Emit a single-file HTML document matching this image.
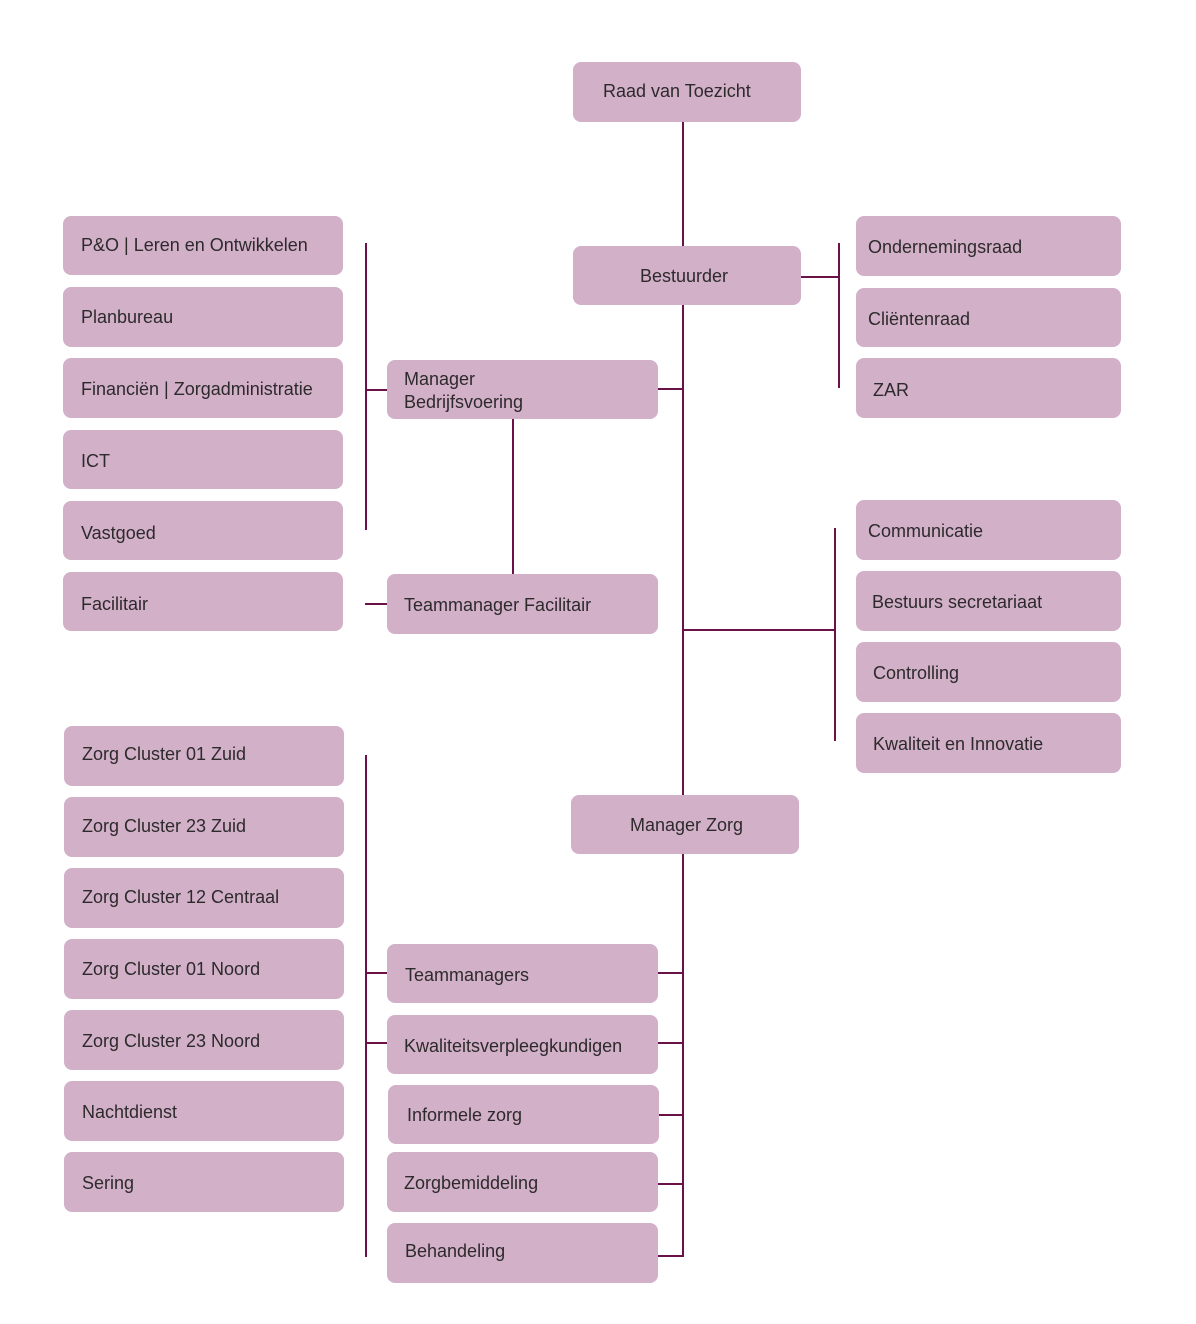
<!DOCTYPE html>
<html>
<head>
<meta charset="utf-8">
<style>
  html, body { margin:0; padding:0; background:#ffffff; }
  body { width:1196px; height:1324px; position:relative; overflow:hidden;
         font-family:"Liberation Sans", Arial, sans-serif; }
  .b { position:absolute; background:#d2b0c8; border-radius:8px; box-sizing:border-box;
       display:flex; align-items:center; font-size:18px; color:#2d2a2c; line-height:23px; white-space:nowrap; }
  .b span { position:relative; }
  .h { position:absolute; height:2px; background:#6c1148; }
  .v { position:absolute; width:2px; background:#6c1148; }
</style>
</head>
<body>
<!-- connectors -->
<div class="v" style="left:682px; top:121px; height:1136px;"></div>
<div class="h" style="left:800px; top:276px; width:40px;"></div>
<div class="v" style="left:838px; top:243px; height:145px;"></div>
<div class="h" style="left:657px; top:388px; width:26px;"></div>
<div class="v" style="left:365px; top:243px; height:287px;"></div>
<div class="h" style="left:365px; top:389px; width:23px;"></div>
<div class="v" style="left:512px; top:418px; height:157px;"></div>
<div class="h" style="left:365px; top:603px; width:23px;"></div>
<div class="h" style="left:683px; top:629px; width:153px;"></div>
<div class="v" style="left:834px; top:528px; height:213px;"></div>
<div class="h" style="left:657px; top:972px; width:26px;"></div>
<div class="h" style="left:657px; top:1042px; width:26px;"></div>
<div class="h" style="left:658px; top:1114px; width:25px;"></div>
<div class="h" style="left:657px; top:1183px; width:26px;"></div>
<div class="h" style="left:657px; top:1255px; width:27px;"></div>
<div class="v" style="left:365px; top:755px; height:502px;"></div>
<div class="h" style="left:365px; top:972px; width:23px;"></div>
<div class="h" style="left:365px; top:1042px; width:23px;"></div>

<!-- center column -->
<div class="b" style="left:573px; top:62px; width:228px; height:60px; padding-left:30px;"><span style="top:-1px">Raad van Toezicht</span></div>
<div class="b" style="left:573px; top:246px; width:228px; height:59px; padding-left:67px;"><span style="top:1px">Bestuurder</span></div>
<div class="b" style="left:571px; top:795px; width:228px; height:59px; padding-left:59px;"><span style="top:1px">Manager Zorg</span></div>

<!-- middle column -->
<div class="b" style="left:387px; top:360px; width:271px; height:59px; padding-left:17px;"><span style="top:1px">Manager<br>Bedrijfsvoering</span></div>
<div class="b" style="left:387px; top:574px; width:271px; height:60px; padding-left:17px;"><span style="top:1px">Teammanager Facilitair</span></div>
<div class="b" style="left:387px; top:944px; width:271px; height:59px; padding-left:18px;"><span style="top:2px">Teammanagers</span></div>
<div class="b" style="left:387px; top:1015px; width:271px; height:59px; padding-left:17px;"><span style="top:2px">Kwaliteitsverpleegkundigen</span></div>
<div class="b" style="left:388px; top:1085px; width:271px; height:59px; padding-left:19px;"><span style="top:1px">Informele zorg</span></div>
<div class="b" style="left:387px; top:1152px; width:271px; height:60px; padding-left:17px;"><span style="top:1px">Zorgbemiddeling</span></div>
<div class="b" style="left:387px; top:1223px; width:271px; height:60px; padding-left:18px;"><span style="top:-2px">Behandeling</span></div>

<!-- left top column -->
<div class="b" style="left:63px; top:216px; width:280px; height:59px; padding-left:18px;"><span>P&amp;O | Leren en Ontwikkelen</span></div>
<div class="b" style="left:63px; top:287px; width:280px; height:60px; padding-left:18px;"><span>Planbureau</span></div>
<div class="b" style="left:63px; top:358px; width:280px; height:60px; padding-left:18px;"><span style="top:1px">Financiën | Zorgadministratie</span></div>
<div class="b" style="left:63px; top:430px; width:280px; height:59px; padding-left:18px;"><span style="top:2px">ICT</span></div>
<div class="b" style="left:63px; top:501px; width:280px; height:59px; padding-left:18px;"><span style="top:3px">Vastgoed</span></div>
<div class="b" style="left:63px; top:572px; width:280px; height:59px; padding-left:18px;"><span style="top:3px">Facilitair</span></div>

<!-- left bottom column -->
<div class="b" style="left:64px; top:726px; width:280px; height:60px; padding-left:18px;"><span style="top:-2px">Zorg Cluster 01 Zuid</span></div>
<div class="b" style="left:64px; top:797px; width:280px; height:60px; padding-left:18px;"><span style="top:-1px">Zorg Cluster 23 Zuid</span></div>
<div class="b" style="left:64px; top:868px; width:280px; height:60px; padding-left:18px;"><span style="top:-1px">Zorg Cluster 12 Centraal</span></div>
<div class="b" style="left:64px; top:939px; width:280px; height:60px; padding-left:18px;"><span>Zorg Cluster 01 Noord</span></div>
<div class="b" style="left:64px; top:1010px; width:280px; height:60px; padding-left:18px;"><span style="top:1px">Zorg Cluster 23 Noord</span></div>
<div class="b" style="left:64px; top:1081px; width:280px; height:60px; padding-left:18px;"><span style="top:1px">Nachtdienst</span></div>
<div class="b" style="left:64px; top:1152px; width:280px; height:60px; padding-left:18px;"><span style="top:1px">Sering</span></div>

<!-- right column -->
<div class="b" style="left:856px; top:216px; width:265px; height:60px; padding-left:12px;"><span style="top:1px">Ondernemingsraad</span></div>
<div class="b" style="left:856px; top:288px; width:265px; height:59px; padding-left:12px;"><span style="top:2px">Cliëntenraad</span></div>
<div class="b" style="left:856px; top:358px; width:265px; height:60px; padding-left:17px;"><span style="top:2px">ZAR</span></div>
<div class="b" style="left:856px; top:500px; width:265px; height:60px; padding-left:12px;"><span style="top:1px">Communicatie</span></div>
<div class="b" style="left:856px; top:571px; width:265px; height:60px; padding-left:16px;"><span style="top:1px">Bestuurs secretariaat</span></div>
<div class="b" style="left:856px; top:642px; width:265px; height:60px; padding-left:17px;"><span style="top:1px">Controlling</span></div>
<div class="b" style="left:856px; top:713px; width:265px; height:60px; padding-left:17px;"><span style="top:1px">Kwaliteit en Innovatie</span></div>
</body>
</html>
